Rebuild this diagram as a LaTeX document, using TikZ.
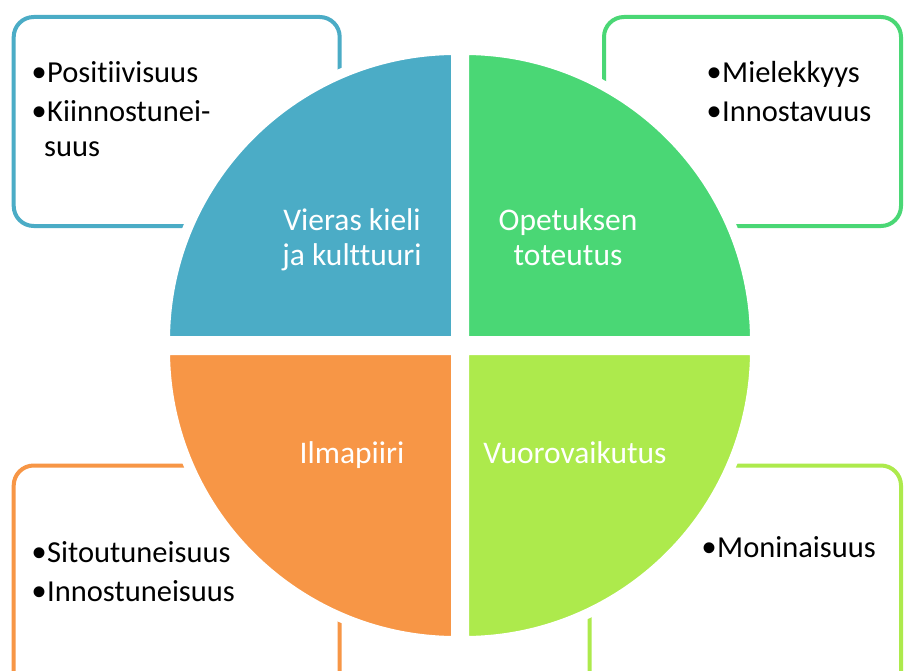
\documentclass[tikz,border=0pt]{standalone}
\usepackage{fontspec}
\setmainfont{Carlito}[Ligatures=NoCommon]
\newfontfamily\bulfont{Liberation Sans}
\definecolor{cblue}{HTML}{4BACC6}
\definecolor{cgreen}{HTML}{4AD775}
\definecolor{corange}{HTML}{F79646}
\definecolor{clime}{HTML}{ADEA4C}
\begin{document}
\begin{tikzpicture}[x=1pt,y=-1pt,
  outbox/.style={line width=4pt,rounded corners=20pt,fill=white},
  quarter/.style={draw=white,line width=10pt},
  boxtext/.style={anchor=base west,inner sep=0pt,font=\fontsize{30.5}{36}\selectfont,text=black},
  bul/.style={anchor=base west,inner sep=0pt,font=\bulfont\fontsize{40}{40}\selectfont,text=black,yshift=-4pt},
  qtext/.style={anchor=base,inner sep=0pt,font=\fontsize{31.5}{36}\selectfont,text=white}]
\useasboundingbox (0,0) rectangle (904,671);
\clip (0,0) rectangle (904,671);
\fill[white] (0,0) rectangle (904,671);
% outline boxes
\draw[outbox,draw=cblue] (13.7,17) rectangle (339.7,226);
\draw[outbox,draw=cgreen] (604,17) rectangle (901,226);
\draw[outbox,draw=corange] (13.7,465.5) rectangle (339.7,720);
\draw[outbox,draw=clime] (589.5,465.5) rectangle (901,720);
% quarters
\path[quarter,fill=cblue] (456,341) -- ++(-291,0) arc[start angle=180,end angle=270,radius=291] -- cycle;
\path[quarter,fill=cgreen] (464,341) -- ++(0,-291) arc[start angle=270,end angle=360,radius=291] -- cycle;
\path[quarter,fill=corange] (456,350) -- ++(0,291) arc[start angle=90,end angle=180,radius=291] -- cycle;
\path[quarter,fill=clime] (464,350) -- ++(291,0) arc[start angle=0,end angle=90,radius=291] -- cycle;
% quarter labels
\node[qtext] (q1a) at (352,230) {Vieras kieli};
\node[qtext] (q1b) at (352,265) {ja kulttuuri};
\node[qtext] (q2a) at (568,230) {Opetuksen};
\node[qtext] (q2b) at (568,265) {toteutus};
\node[qtext] (q3a) at (352,463) {Ilmapiiri};
\node[qtext] (q4a) at (575,463) {Vuorovaikutus};
% box texts
\node[bul] (b1a) at (32,83) {•};
\node[boxtext] (t1a) at (47,83) {Positiivisuus};
\node[bul] (b1b) at (32,122) {•};
\node[boxtext] (t1b) at (47,122) {Kiinnostunei-};
\node[boxtext] (t1c) at (44,157) {suus};
\node[bul] (b2a) at (707,83) {•};
\node[boxtext] (t2a) at (722,83) {Mielekkyys};
\node[bul] (b2b) at (707,122) {•};
\node[boxtext] (t2b) at (722,122) {Innostavuus};
\node[bul] (b3a) at (32,562) {•};
\node[boxtext] (t3a) at (47,562) {Sitoutuneisuus};
\node[bul] (b3b) at (32,601) {•};
\node[boxtext] (t3b) at (47,601) {Innostuneisuus};
\node[bul] (b4a) at (702,557) {•};
\node[boxtext] (t4a) at (717,557) {Moninaisuus};
\end{tikzpicture}
\end{document}
